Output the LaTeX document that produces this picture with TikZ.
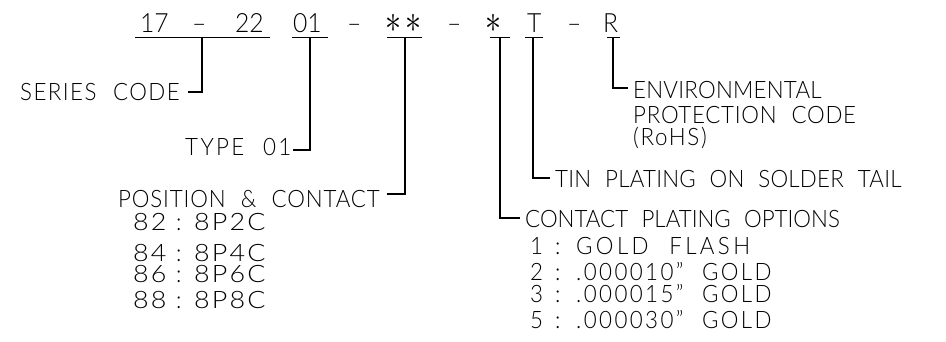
\documentclass[tikz,border=0pt]{standalone}
\usepackage{fontspec}
\setmainfont{Lato Light}[WordSpace=2.2, FakeStretch=0.93]
\newcommand\bodyfont{\fontsize{24}{28}\selectfont}
\newcommand\topfont{\fontsize{26.5}{30}\selectfont}
\newcommand\ls[1]{\addfontfeature{LetterSpace=#1}}
\newcommand\wide{\addfontfeature{FakeStretch=1.12, LetterSpace=9}}
\begin{document}
\begin{tikzpicture}[x=1pt,y=-1pt,
  lbl/.style={anchor=base west, inner sep=0pt, font=\bodyfont, text height=16pt, text depth=0pt},
  toptxt/.style={anchor=base west, inner sep=0pt, font=\topfont},
  starsym/.style={anchor=center, inner sep=0pt, font=\normalsize},
  ln/.style={line width=1.2pt, draw=black}]
\useasboundingbox (0,0) rectangle (946,341);
% top row
\node[toptxt] (t17) at (140,32) {17};
\node[toptxt] (td1) at (192,32) {–};
\node[toptxt] (t22) at (235,32) {22};
\node[toptxt] (t01) at (293,32) {01};
\node[toptxt] (td2) at (347,32) {–};
\node[starsym] (s1) at (393,23) {\scalebox{3.2}[3.9]{$\ast$}};
\node[starsym] (s2) at (413,23) {\scalebox{3.2}[3.9]{$\ast$}};
\node[toptxt] (td3) at (447,32) {–};
\node[starsym] (s3) at (493.5,23) {\scalebox{3.2}[3.9]{$\ast$}};
\node[toptxt] (tT) at (527,32) {T};
\node[toptxt] (td4) at (567,32) {–};
\node[toptxt] (tR) at (603,32) {R};
% underlines
\coordinate (uA1) at (135,37.5); \coordinate (uA2) at (270,37.5);
\coordinate (uB1) at (292,37.5); \coordinate (uB2) at (328,37.5);
\coordinate (uC1) at (387,37.5); \coordinate (uC2) at (422,37.5);
\coordinate (uD1) at (490,37.5); \coordinate (uD2) at (510,37.5);
\coordinate (uE1) at (525,37.5); \coordinate (uE2) at (543,37.5);
\coordinate (uF1) at (607,37.5); \coordinate (uF2) at (620,37.5);
\foreach \k in {A,B,C,D,E,F} {\draw[ln] (u\k1) -- (u\k2);}
% leader tops and ends
\coordinate (vA) at (202,37.5); \coordinate (eA) at (188,92);
\coordinate (vB) at (310,37.5); \coordinate (eB) at (293,150);
\coordinate (vC) at (405,37.5); \coordinate (eC) at (387,194);
\coordinate (vD) at (500,37.5); \coordinate (eD) at (520,218);
\coordinate (vE) at (533,37.5); \coordinate (eE) at (550,178);
\coordinate (vF) at (613,37.5); \coordinate (eF) at (628,88);
\foreach \k in {A,B,C,D,E,F} {\draw[ln] (v\k) |- (e\k);}
% labels
\node[lbl] (series) at (20,100) {\ls{6}SERIES CODE};
\node[lbl] (type) at (185,155) {\ls{10}TYPE 01};
\node[lbl] (pos) at (118,207) {\ls{3.5}POSITION \& CONTACT};
% position list
\foreach \n/\v/\y in {82/8P2C/230, 84/8P4C/261, 86/8P6C/282, 88/8P8C/308} {
  \node[lbl] (pn\n) at (133,\y) {\wide\n};
  \node[lbl] (pc\n) at (176,\y) {:};
  \node[lbl] (pv\n) at (194,\y) {\wide\v};
}
\node[lbl] (tin) at (555,187) {\ls{1}TIN PLATING ON SOLDER TAIL};
\node[lbl] (cpo) at (525,227) {CONTACT PLATING OPTIONS};
% contact list
\foreach \n/\v/\s/\y in {1/GOLD FLASH/14/254, 2/.000010” GOLD/10/280.5, 3/.000015” GOLD/10/302, 5/.000030” GOLD/10/328} {
  \node[lbl] (cn\n) at (530,\y) {\n};
  \node[lbl] (cc\n) at (555,\y) {:};
  \node[lbl] (cv\n) at (576,\y) {\ls{\s}\v};
}
\node[lbl] (env1) at (633,98) {\ls{1}ENVIRONMENTAL};
\node[lbl] (env2) at (633,123) {\ls{3}PROTECTION CODE};
\node[lbl] (env3) at (633,145) {\ls{7}(RoHS)};
\end{tikzpicture}
\end{document}
